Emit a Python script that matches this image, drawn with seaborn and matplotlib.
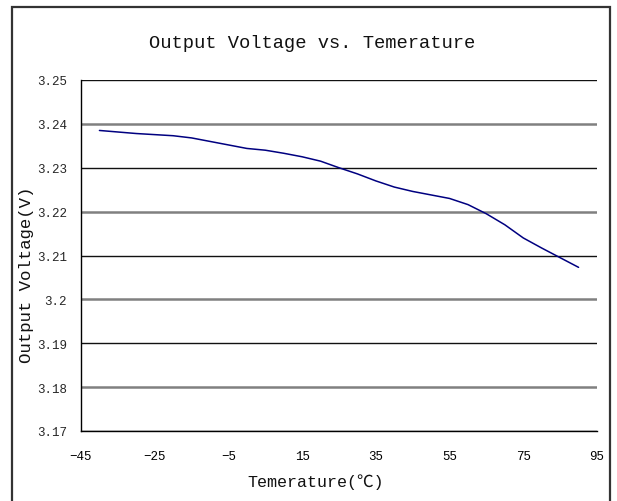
import matplotlib
matplotlib.use("Agg")
import matplotlib.pyplot as plt
import matplotlib.patches as patches
import pandas as pd
import seaborn as sns

# readings from the curve
temps = [-40, -30, -20, -15, -10, -5, 0, 5, 10, 15, 20, 25, 30, 35, 40, 45,
         50, 55, 60, 65, 70, 75, 80, 85, 90]
volts = [3.2385, 3.2378, 3.2373, 3.2368, 3.2360, 3.2352, 3.2344, 3.2340,
         3.2333, 3.2325, 3.2315, 3.2300, 3.2286, 3.2270, 3.2256, 3.2246,
         3.2238, 3.2230, 3.2216, 3.2195, 3.2170, 3.2140, 3.2117, 3.2095, 3.2073]

x_ticks = [-45, -25, -5, 15, 35, 55, 75, 95]
y_ticks = [3.17, 3.18, 3.19, 3.20, 3.21, 3.22, 3.23, 3.24, 3.25]
y_tick_labels = ["3.17", "3.18", "3.19", "3.2", "3.21", "3.22", "3.23", "3.24", "3.25"]

df = pd.DataFrame({"Temp": temps, "Voltage": volts})

sns.set_style("white")
plt.rcParams["font.family"] = ["Liberation Mono", "Noto Sans CJK SC", "DejaVu Sans"]

fig = plt.figure(figsize=(6.17, 5.02), dpi=100)
ax = fig.add_axes([81 / 617, 1 - 432 / 502, 516 / 617, 351 / 502])

# outer chart frame
fig.patches.append(patches.Rectangle((12 / 617, -0.05), 598 / 617, 1 - 8 / 502 + 0.05,
                                     transform=fig.transFigure, fill=False,
                                     edgecolor="#333333", linewidth=1.6))

sns.lineplot(data=df, x="Temp", y="Voltage", ax=ax, color="#000080", linewidth=1.1)

ax.set_xlim(-45, 95)
ax.set_ylim(3.17, 3.25)
ax.set_xticks(x_ticks)
ax.set_xticklabels([str(t).replace("-", "\u2212") for t in x_ticks])
ax.set_yticks(y_ticks)
ax.set_yticklabels(y_tick_labels)
ax.tick_params(axis="x", direction="in", length=4, width=1, colors="#000000",
               labelsize=9, pad=14)
ax.tick_params(axis="y", direction="out", length=0, labelsize=9, pad=10)

ax.grid(axis="y", linewidth=1.0)
for i, gl in enumerate(ax.get_ygridlines()):
    if i % 2 == 0:
        gl.set_color("#111111")
        gl.set_linewidth(1.0)
    else:
        gl.set_color("#808080")
        gl.set_linewidth(1.8)

for side in ["top", "right"]:
    ax.spines[side].set_visible(False)
for side in ["left", "bottom"]:
    ax.spines[side].set_color("#000000")
    ax.spines[side].set_linewidth(1.0)

ax.set_xlabel("")
ax.set_ylabel("")
fig.text(312 / 617, 1 - 43 / 502, "Output Voltage vs. Temerature",
         ha="center", va="center", fontsize=13.5, color="#111111")
fig.text(316 / 617, 1 - 482 / 502, "Temerature(\u2103)",
         ha="center", va="center", fontsize=12, color="#111111")
fig.text(27 / 617, 1 - 275 / 502, "Output Voltage(V)", rotation=90,
         ha="center", va="center", fontsize=12.5, color="#111111")

fig.savefig("out.png", dpi=100)
